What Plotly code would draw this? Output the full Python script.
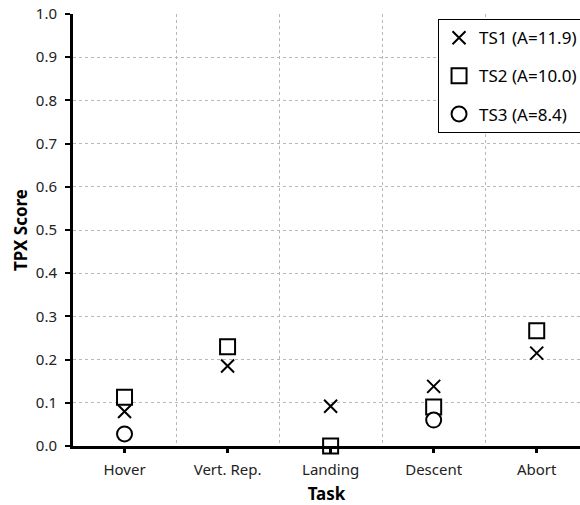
import plotly.graph_objects as go

tasks = ["Hover", "Vert. Rep.", "Landing", "Descent", "Abort"]
ts1 = [0.08, 0.185, 0.092, 0.138, 0.215]
ts2 = [0.113, 0.23, 0.0, 0.09, 0.267]
ts3 = [0.028, None, None, 0.06, None]
names = ["TS1 (A=11.9)", "TS2 (A=10.0)", "TS3 (A=8.4)"]
yticks = [0.0, 0.1, 0.2, 0.3, 0.4, 0.5, 0.6, 0.7, 0.8, 0.9, 1.0]

xpos = list(range(len(tasks)))
font = "Noto Sans"

fig = go.Figure()
fig.add_trace(go.Scatter(x=xpos, y=ts1, mode="markers", name=names[0], legendgroup="a", cliponaxis=False,
                         marker=dict(symbol="x-thin", size=13, line=dict(color="black", width=2), color="black")))
fig.add_trace(go.Scatter(x=xpos, y=ts2, mode="markers", name=names[1], legendgroup="b", cliponaxis=False,
                         marker=dict(symbol="square", size=15, color="white", line=dict(color="black", width=2))))
fig.add_trace(go.Scatter(x=xpos, y=ts3, mode="markers", name=names[2], legendgroup="c", cliponaxis=False,
                         marker=dict(symbol="circle", size=15, color="white", line=dict(color="black", width=2))))

fig.update_layout(
    width=580, height=505,
    margin=dict(l=73, r=0, t=14, b=59, autoexpand=False),
    plot_bgcolor="white", paper_bgcolor="white",
    font=dict(family=font, color="#222", size=15),
    showlegend=True,
    legend=dict(x=0.72, y=0.988, xanchor="left", yanchor="top",
                bgcolor="white", bordercolor="black", borderwidth=1,
                font=dict(size=17, color="black"), tracegroupgap=13,
                itemwidth=30),
    xaxis=dict(range=[-0.5, 4.42], tickvals=xpos, ticktext=tasks,
               showgrid=False, zeroline=False,
               showline=True, linecolor="black", linewidth=3,
               ticks="outside", ticklen=4, tickwidth=3, tickcolor="black",
               ticklabelstandoff=4,
               minor=dict(tickvals=[0.5, 1.5, 2.5, 3.5], showgrid=True, gridcolor="#b8b8b8",
                          griddash="3px,3px", gridwidth=1, ticks=""),
               title=dict(text="<b>Task</b>", font=dict(size=17, color="black"), standoff=14),
               tickfont=dict(size=15)),
    yaxis=dict(range=[0, 1.0], tickvals=yticks, ticktext=[f"{v:.1f}" for v in yticks],
               showgrid=True, gridcolor="#b8b8b8", griddash="3px,3px", gridwidth=1,
               zeroline=False, showline=True, linecolor="black", linewidth=3,
               ticks="outside", ticklen=5, tickwidth=2, tickcolor="black",
               ticklabelstandoff=5,
               title=dict(text="<b>TPX Score</b>", font=dict(size=17, color="black"), standoff=4),
               tickfont=dict(size=15)),
)

fig.write_html("out.html", config={"displayModeBar": False},
               post_script="document.body.style.margin='0px';")
